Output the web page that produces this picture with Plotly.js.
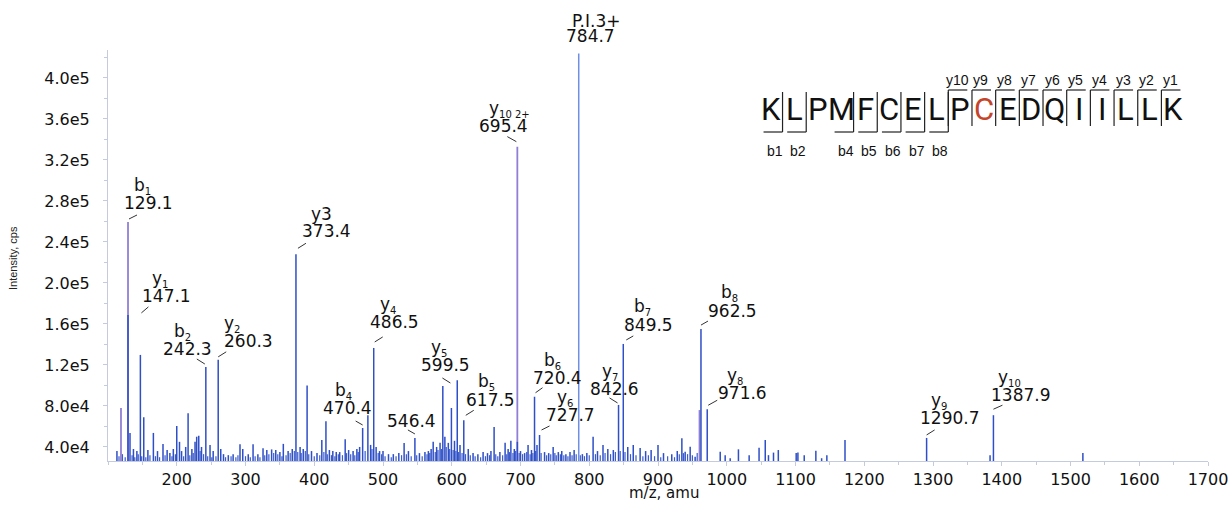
<!DOCTYPE html>
<html>
<head>
<meta charset="utf-8">
<script src="https://cdn.plot.ly/plotly-3.0.1.min.js"></script>
<style>html,body{margin:0;padding:0;background:#fff;}#chart{width:1228px;height:506px;}</style>
</head>
<body>
<div id="chart"></div>
<script>
// ---------- data ----------
const peakMz = [113,129.1,132,137,142,147.1,152,158,166,172,180,186,190,195,200,204,207,213,216.5,222,226.6,229,232,236,242.3,248.4,253,260.3,264,268,275,282,292,296,304,311,318,325.5,331,338,344,350,355,362,368,373.4,379.4,384,389.6,396,404,411,417,422,427,432,437,445,450,456.5,462,466,470.4,478,482,486.5,490,495,500,508,515,523,530.7,537,546.4,553,561,566,570,573,578,583,587,590,595,599.5,604,608,612,617.5,624,631,638,645.6,652,657,661.6,670,677.6,682,686,691,695.4,700,706,711,716,720.4,724,727.7,735,741,747.5,755,760,766,772,778,790,796.5,805.6,812,820,827,835,842.6,849.5,856,864,874,882,890,900,908,920,928,934.7,939.5,946.8,954,962.5,971.6,990.5,997.7,1005,1017,1032.6,1047,1056,1060.7,1068,1075,1101,1103.5,1112.7,1129.6,1138,1145.6,1172,1290.7,1383,1387.9,1518];
const peakInt = [36000,168800,53700,38000,36000,129800,69000,37000,53700,36000,43000,37000,34000,38000,60500,45000,36000,40000,73000,38000,45000,50000,51000,40000,118000,42000,36000,125000,38000,33000,32000,33000,42600,38000,33000,42600,33000,38700,37000,37600,37000,35000,43000,36000,38000,228000,40000,38000,100000,36000,34000,46800,65000,37000,36000,35000,35000,47500,37000,36000,38000,40000,58500,71000,42000,136600,40000,36000,36000,33000,33000,34000,43900,36000,48800,34000,35000,36000,38000,45000,40000,44000,99500,50000,44000,78000,46000,105000,42000,66000,38000,34000,33000,35000,34000,36000,59500,35000,44000,38000,46000,38000,45000,36000,34000,42000,37000,89000,42000,51700,35000,34000,40000,35000,36000,33000,35000,37000,33000,34000,50000,36000,42000,38000,37000,81000,140500,40000,42000,39000,36000,37000,42000,34000,33000,36000,48500,35400,40300,30500,155000,76800,35400,32000,29000,37700,32000,39300,46800,32000,34500,37000,34000,34500,32000,36400,29000,32000,46800,48800,32000,71000,34000];
const noiseMz = [116,121,125,135,139,144,149,155,161,169,175,183,193,198,210,219,224,234,239,245,251,257,271,279,286,289,300,307,314,321,328,334,341,347,353,359,365,371,376,381,387,392,400,408,414,419,425,430,435,441,447,453,459,464,474,484,493,498,503,512,519,527,534,541,549,557,564,568,576,580,585,592,597,602,606,610,615,620,627,634,642,649,655,664,667,674,680,684,689,693,698,703,709,714,718,722,730,738,744,750,752,758,763,769,775,781,787,793,800,809,816,823,831,838,845,852,860,868,878,886,895,904,914,924,931,937,943,950,957];
const noiseInt = [31000,33000,30000,32000,30000,33000,31000,30000,32000,31000,30000,32000,31000,33000,31000,32000,34000,36000,33000,31000,30000,31000,30000,31000,30000,32000,31000,30000,31000,30000,32000,33000,34000,33000,31000,32000,34000,36000,35000,34000,36000,33000,31000,32000,35000,33000,32000,31000,33000,32000,34000,33000,32000,35000,36000,38000,34000,33000,31000,30000,31000,32000,33000,31000,32000,31000,33000,34000,35000,37000,38000,40000,38000,37000,36000,35000,34000,33000,32000,31000,30000,31000,32000,33000,31000,32000,33000,35000,34000,36000,34000,33000,35000,33000,34000,36000,34000,32000,33000,34000,32000,33000,32000,31000,32000,33000,32000,31000,32000,33000,32000,34000,33000,35000,36000,35000,33000,32000,31000,32000,31000,30000,31000,30000,33000,34000,33000,32000,34000];
const profileMz = [118.9,129.1,695.4,960.4];
const profileInt = [78000,259500,333000,76000];
const precursorMz = [784.7];
const precursorInt = [424000];

const xTickVals = [200,300,400,500,600,700,800,900,1000,1100,1200,1300,1400,1500,1600,1700];
const xTickText = ['200','300','400','500','600','700','800','900','1000','1100','1200','1300','1400','1500','1600','1700'];
const yTickVals = [40000,80000,120000,160000,200000,240000,280000,320000,360000,400000];
const yTickText = ['4.0e4','8.0e4','1.2e5','1.6e5','2.0e5','2.4e5','2.8e5','3.2e5','3.6e5','4.0e5'];

const labelMz = [129.1,147.1,242.3,260.3,373.4,470.4,486.5,546.4,599.5,617.5,695.4,784.7,720.4,727.7,842.6,849.5,962.5,971.6,1290.7,1387.9];
const labelIonName = ['b','y','b','y','y3','b','y','','y','b','y','P.I.3+','b','y','y','b','b','y','y','y'];
const labelIonSub = ['1','1','2','2','','4','4','','5','5','10 2+','','6','6','7','7','8','8','9','10'];
const labelText = ['129.1','147.1','242.3','260.3','373.4','470.4','486.5','546.4','599.5','617.5','695.4','784.7','720.4','727.7','842.6','849.5','962.5','971.6','1290.7','1387.9'];

const sequence = ['K','L','P','M','F','C','E','L','P','C','E','D','Q','I','I','L','L','K'];
const bIons = [1,2,4,5,6,7,8];
const yIons = [10,9,8,7,6,5,4,3,2,1];
const modifiedIndex = 9;

// ---------- layout placement (pixel offsets of label text and leader lines) ----------
// [ionDx, ionDy, numDx, numDy, headDx, headDy, tailDx, tailDy]
const place = [
  [14,-36,20,-19,1,-3,9,-7],
  [20,-76,26,-59,1,-42,8,-48],
  [-23,-35,-18,-18,-1,-3,-9,-8],
  [14,-36,30,-19,0,-3,8,-8],
  [26,-40,31,-23,2,-6,10,-11],
  [-19,-37,-15,-20,0,-3,-7,-7],
  [14,-43,21,-26,1,-6,9,-11],
  [0,0,-3,-17,0,-4,-7,-8],
  [-12,-60,-6,-43,-1,-25,-9,-30],
  [23,-38,27,-20,2,-5,10,-10],
  [-8,-38,-14,-21,-1,-5,-10,-10],
  [18,-32,12,-17,null,null,null,null],
  [18,-36,23,-19,1,-4,8,-9],
  [25,-37,31,-20,2,-5,10,-9],
  [-9,-33,-4,-16,-1,-2,-9,-7],
  [19,-37,25,-19,3,-4,10,-8],
  [29,-36,32,-18,0,-4,7,-8],
  [28,-33,35,-16,1,-4,10,-9],
  [12,-37,23,-20,0,-3,8,-8],
  [16,-37,27,-20,0,-6,9,-10]
];

const M = {l:108, r:20, t:50, b:45};
const W = 1228, H = 506;
const PW = W - M.l - M.r, PH = H - M.t - M.b;
const px = x => (x - M.l) / PW;
const py = y => (H - M.b - y) / PH;

function sticks(mz, inten) {
  const xs = [], ys = [];
  mz.forEach((m, i) => { xs.push(m, m, null); ys.push(0, inten[i], null); });
  return {x: xs, y: ys};
}
const allMz = peakMz.concat(profileMz, precursorMz);
const allInt = peakInt.concat(profileInt, precursorInt);
function topAt(m) {
  let best = 0;
  allMz.forEach((v, i) => { if (Math.abs(v - m) <= 1.5 && allInt[i] > best) best = allInt[i]; });
  return best;
}

const s0 = sticks(noiseMz, noiseInt);
const s1 = sticks(profileMz, profileInt);
const s2 = sticks(peakMz, peakInt);
const s3 = sticks(precursorMz, precursorInt);
const traces = [
  {type:'scatter', mode:'lines', x:s0.x, y:s0.y, line:{color:'#3b5ccc', width:1.2}, hoverinfo:'skip', showlegend:false},
  {type:'scatter', mode:'lines', x:s1.x, y:s1.y, line:{color:'#8f7fd6', width:1.8}, hoverinfo:'skip', showlegend:false},
  {type:'scatter', mode:'lines', x:s2.x, y:s2.y, line:{color:'#2f4fc6', width:1.5}, hoverinfo:'skip', showlegend:false},
  {type:'scatter', mode:'lines', x:s3.x, y:s3.y, line:{color:'#6f8fe4', width:1.5}, hoverinfo:'skip', showlegend:false}
];

const labFont = {family:'DejaVu Sans', size:17, color:'#111'};
const annotations = [];
const shapes = [];
labelMz.forEach((m, i) => {
  const p = place[i];
  const top = topAt(m);
  const ion = labelIonName[i] + (labelIonSub[i] ? '<sub><span style="font-size:10px">' + labelIonSub[i] + '</span></sub>' : '');
  if (ion) {
    annotations.push({x:m, y:top, xref:'x', yref:'y', text:ion, showarrow:false,
      xshift:p[0], yshift:-p[1], xanchor:'center', yanchor:'middle', font:labFont});
  }
  annotations.push({x:m, y:top, xref:'x', yref:'y', text:labelText[i], showarrow:false,
    xshift:p[2], yshift:-p[3], xanchor:'center', yanchor:'middle', font:labFont});
  if (p[4] !== null) {
    shapes.push({type:'line', xref:'x', yref:'y', xsizemode:'pixel', ysizemode:'pixel',
      xanchor:m, yanchor:top, x0:p[4], x1:p[6], y0:-p[5], y1:-p[7], line:{color:'#333', width:1}});
  }
});

// axis titles
annotations.push({xref:'paper', yref:'paper', x:px(664), y:py(493), text:'m/z, amu', showarrow:false,
  xanchor:'center', yanchor:'middle', font:{family:'DejaVu Sans', size:15, color:'#111'}});
annotations.push({xref:'paper', yref:'paper', x:px(13), y:py(258), text:'Intensity, cps', showarrow:false,
  textangle:-90, xanchor:'center', yanchor:'middle', font:{family:'Liberation Sans', size:11, color:'#222'}});

// sequence inset
const seqX0 = 770.7, seqStep = 23.68, seqY = 109;
const lineStyle = {color:'#222', width:1.2};
sequence.forEach((r, i) => {
  annotations.push({xref:'paper', yref:'paper', x:px(seqX0 + i*seqStep), y:py(seqY), text:r, showarrow:false,
    xanchor:'center', yanchor:'middle',
    font:{family:'Roboto, sans-serif', size:31, color: i === modifiedIndex ? '#c4452a' : '#111'}});
});
const bx = k => seqX0 + (k - 0.5) * seqStep;
bIons.forEach(n => {
  const x = bx(n);
  shapes.push({type:'line', xref:'paper', yref:'paper', x0:px(x), x1:px(x), y0:py(92), y1:py(132), line:lineStyle});
  shapes.push({type:'line', xref:'paper', yref:'paper', x0:px(x-19), x1:px(x), y0:py(132), y1:py(132), line:lineStyle});
  annotations.push({xref:'paper', yref:'paper', x:px(x-8), y:py(151), text:'b'+n, showarrow:false,
    xanchor:'center', yanchor:'middle', font:{family:'Liberation Sans', size:14, color:'#111'}});
});
yIons.forEach(n => {
  const x = bx(sequence.length - n);
  shapes.push({type:'line', xref:'paper', yref:'paper', x0:px(x), x1:px(x), y0:py(90), y1:py(126), line:lineStyle});
  shapes.push({type:'line', xref:'paper', yref:'paper', x0:px(x), x1:px(x+19), y0:py(90), y1:py(90), line:lineStyle});
  annotations.push({xref:'paper', yref:'paper', x:px(x+9), y:py(80), text:'y'+n, showarrow:false,
    xanchor:'center', yanchor:'middle', font:{family:'Liberation Sans', size:14, color:'#111'}});
});

const axisColor = '#c3cbdd';
const layout = {
  width:W, height:H, margin:M, paper_bgcolor:'#fff', plot_bgcolor:'#fff', showlegend:false,
  xaxis:{range:[100,1700], tickmode:'array', tickvals:xTickVals, ticktext:xTickText,
    ticks:'outside', ticklen:4, tickcolor:axisColor, ticklabelstandoff:0, ticklabeloverflow:'allow',
    minor:{tickmode:'linear', tick0:0, dtick:50, ticks:'outside', ticklen:3, tickcolor:axisColor},
    showline:true, linecolor:axisColor, linewidth:1, showgrid:false, zeroline:false,
    tickfont:{family:'DejaVu Sans', size:16, color:'#111'}},
  yaxis:{range:[26300,427300], tickmode:'array', tickvals:yTickVals, ticktext:yTickText,
    ticks:'outside', ticklen:4, tickcolor:axisColor, ticklabelstandoff:10,
    minor:{tickmode:'linear', tick0:0, dtick:20000, ticks:'outside', ticklen:3, tickcolor:axisColor},
    showline:true, linecolor:axisColor, linewidth:1, showgrid:false, zeroline:false,
    tickfont:{family:'DejaVu Sans', size:16, color:'#111'}},
  annotations:annotations, shapes:shapes
};
Plotly.newPlot('chart', traces, layout, {staticPlot:true, displayModeBar:false});
</script>
</body>
</html>
